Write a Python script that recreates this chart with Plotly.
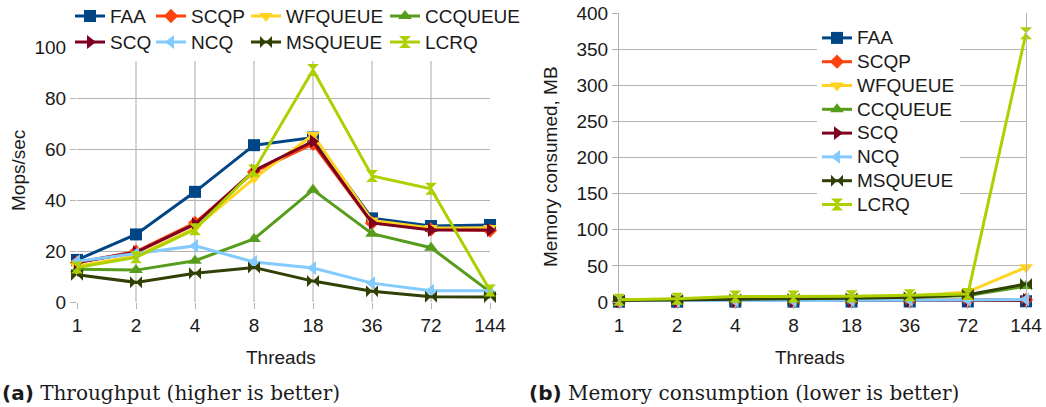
import plotly.graph_objects as go

threads = ["1", "2", "4", "8", "18", "36", "72", "144"]
names = ["FAA", "SCQP", "WFQUEUE", "CCQUEUE", "SCQ", "NCQ", "MSQUEUE", "LCRQ"]

# Throughput, Mops/sec
tp_faa = [16.5, 26.5, 43.2, 61.5, 64.5, 32.8, 29.8, 30.2]
tp_scqp = [15.5, 19.8, 31.0, 51.0, 62.0, 31.0, 28.5, 28.0]
tp_wfqueue = [14.0, 18.0, 29.0, 48.5, 65.5, 32.0, 29.0, 29.0]
tp_ccqueue = [12.8, 12.5, 16.2, 24.7, 44.0, 26.8, 21.3, 4.0]
tp_scq = [15.5, 19.5, 30.5, 51.5, 63.0, 31.0, 28.2, 28.2]
tp_ncq = [16.0, 19.0, 22.0, 15.7, 13.3, 7.4, 4.4, 4.4]
tp_msqueue = [10.7, 7.7, 11.3, 13.5, 8.2, 4.2, 2.1, 2.0]
tp_lcrq = [13.5, 17.5, 28.5, 51.5, 91.0, 49.4, 44.4, 4.5]

# Memory consumed, MB
mem_faa = [0.4, 0.4, 0.5, 0.5, 0.6, 0.7, 0.8, 1.0]
mem_scqp = [1.0, 1.1, 1.3, 1.4, 1.6, 2.0, 2.4, 3.0]
mem_wfqueue = [2.5, 3.5, 5.5, 6.0, 6.5, 8.0, 14.0, 48.0]
mem_ccqueue = [2.0, 2.6, 3.5, 4.0, 4.8, 6.0, 9.0, 22.0]
mem_scq = [1.0, 1.1, 1.3, 1.4, 1.6, 2.0, 2.4, 3.0]
mem_ncq = [1.2, 1.3, 1.5, 1.7, 1.9, 2.3, 2.8, 3.5]
mem_msqueue = [2.2, 2.8, 3.8, 4.3, 5.2, 6.5, 10.0, 25.0]
mem_lcrq = [3.0, 4.5, 7.5, 7.5, 8.0, 9.5, 11.0, 372.0]

tp = [tp_faa, tp_scqp, tp_wfqueue, tp_ccqueue, tp_scq, tp_ncq, tp_msqueue, tp_lcrq]
mem = [mem_faa, mem_scqp, mem_wfqueue, mem_ccqueue, mem_scq, mem_ncq, mem_msqueue, mem_lcrq]

colors = ["#004586", "#ff420e", "#ffd320", "#579d1c", "#7e0021", "#83caff", "#314004", "#aecf00"]
symbols = ["square", "diamond", "triangle-down", "triangle-up", "triangle-right",
           "triangle-left", "bowtie", "hourglass"]
sizes = [12, 11, 12, 12, 12, 12, 12, 12]
# column legends for the left chart (4 columns x 2 rows)
left_leg = ["legend", "legend2", "legend3", "legend4", "legend", "legend2", "legend3", "legend4"]

W, H = 1046, 407
FONT = "Liberation Sans"
TXT = "#1a1a1a"

def label(n):
    return f"<span style='font-size:19px'>{n}</span>"

fig = go.Figure()
for i, n in enumerate(names):
    fig.add_trace(go.Scatter(
        x=threads, y=tp[i], name=label(n), mode="lines+markers",
        line=dict(color=colors[i], width=3),
        marker=dict(symbol=symbols[i], size=sizes[i], color=colors[i]),
        xaxis="x", yaxis="y", legend=left_leg[i], cliponaxis=False,
    ))
for i, n in enumerate(names):
    fig.add_trace(go.Scatter(
        x=threads, y=mem[i], name=label(n), mode="lines+markers",
        line=dict(color=colors[i], width=3),
        marker=dict(symbol=symbols[i], size=sizes[i], color=colors[i]),
        xaxis="x2", yaxis="y2", legend="legend5", cliponaxis=False,
    ))

def px(x):
    return x / W

def py(y):
    return 1 - y / H

tickfont = dict(family=FONT, size=19, color=TXT)
common_x = dict(type="category", range=[0, 7], tickfont=tickfont, ticks="outside",
                ticklen=6, tickcolor="#b3b3b3", zeroline=False, automargin=False)

legend_common = dict(orientation="v", bgcolor="white", borderwidth=0,
                     xanchor="left", yanchor="top", itemwidth=30,
                     traceorder="normal", tracegroupgap=0)

col_x = [70, 151, 246, 385]
layout_legends = {}
for k, cx in enumerate(col_x):
    key = "legend" if k == 0 else f"legend{k+1}"
    layout_legends[key] = dict(legend_common, x=px(cx), y=py(-2),
                               font=dict(family=FONT, size=17.7, color=TXT))
layout_legends["legend5"] = dict(legend_common, x=px(817), y=py(21),
                                 font=dict(family=FONT, size=16, color=TXT))

fig.update_layout(
    width=W, height=H,
    margin=dict(l=0, r=0, t=0, b=0, autoexpand=False),
    paper_bgcolor="white", plot_bgcolor="white",
    showlegend=True,
    xaxis=dict(common_x, domain=[px(77), px(490)], anchor="y",
               showgrid=True, gridcolor="#d4d4d4", gridwidth=2),
    yaxis=dict(domain=[py(302), py(47)], anchor="x", range=[0, 100], dtick=20,
               tickfont=tickfont, showgrid=True, gridcolor="#b3b3b3", gridwidth=1,
               ticks="outside", ticklen=6, tickcolor="#b3b3b3", zeroline=False,
               automargin=False),
    xaxis2=dict(common_x, domain=[px(619), px(1026)], anchor="y2", showgrid=False),
    yaxis2=dict(domain=[py(302), py(13)], anchor="x2", range=[0, 400], dtick=50,
                tickfont=tickfont, showgrid=True, gridcolor="#b3b3b3", gridwidth=1,
                showline=True, mirror=True, linecolor="#b3b3b3", linewidth=1,
                ticks="outside", ticklen=6, tickcolor="#b3b3b3", zeroline=False,
                automargin=False),
    **layout_legends,
)

title_font = dict(family=FONT, size=19, color=TXT)
ann = [
    dict(text="Mops/sec", x=px(18), y=py(171), textangle=-90, font=title_font),
    dict(text="Memory consumed, MB", x=px(550), y=py(167), textangle=-90, font=title_font),
    dict(text="Threads", x=px(281), y=py(357), font=title_font),
    dict(text="Threads", x=px(810), y=py(357), font=title_font),
]
for a in ann:
    a.update(xref="paper", yref="paper", showarrow=False, xanchor="center", yanchor="middle")
    fig.add_annotation(**a)

cap_font = dict(family="DejaVu Serif", size=20, color=TXT)
sans_b = "font-family:DejaVu Sans"
fig.add_annotation(text=f"<span style='{sans_b}'><b>(a)</b></span> Throughput (higher is better)",
                   x=px(0), y=py(393), xref="paper", yref="paper", showarrow=False,
                   xanchor="left", yanchor="middle", font=cap_font)
fig.add_annotation(text=f"<span style='{sans_b}'><b>(b)</b></span> Memory consumption (lower is better)",
                   x=px(527), y=py(393), xref="paper", yref="paper", showarrow=False,
                   xanchor="left", yanchor="middle", font=cap_font)

fig.write_html("out.html", config={"displayModeBar": False},
               post_script="document.body.style.margin='0';document.body.style.overflow='hidden';")
